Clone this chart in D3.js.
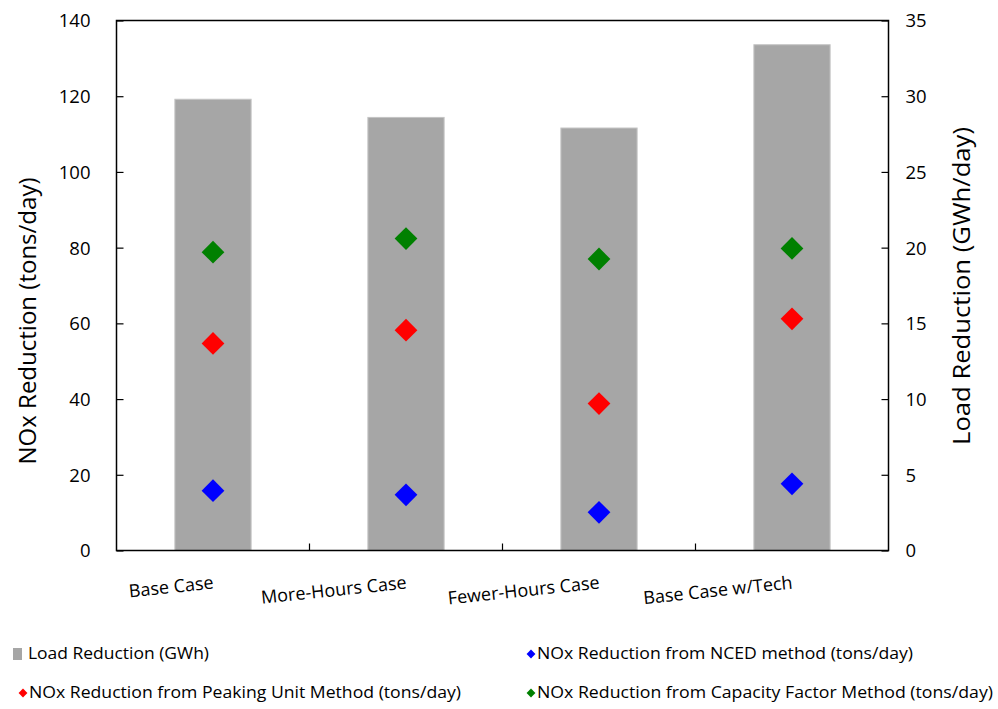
<!DOCTYPE html>
<html>
<head>
<meta charset="utf-8">
<script src="https://cdn.jsdelivr.net/npm/d3@7"></script>
<style>
  html, body { margin: 0; padding: 0; background: #fff; }
  svg { display: block; }
  text { font-family: "Open Sans", "DejaVu Sans", sans-serif; fill: #000; }
</style>
</head>
<body>
<svg id="chart" width="998" height="709"></svg>
<script>
// Scenario categories
const categories = ["Base Case", "More-Hours Case", "Fewer-Hours Case", "Base Case w/Tech"];
// Load reduction (GWh/day), right axis
const loadReduction = [29.8, 28.6, 27.9, 33.4];
// NOx reductions (tons/day), left axis
const noxNCED = [15.8, 14.7, 10.1, 17.6];
const noxPeaking = [54.7, 58.2, 38.8, 61.2];
const noxCapacity = [78.8, 82.4, 77.0, 79.8];

const leftTicks = [0, 20, 40, 60, 80, 100, 120, 140];
const rightTicks = [0, 5, 10, 15, 20, 25, 30, 35];

const pointSeries = [
  { name: "NOx Reduction from NCED method (tons/day)", values: noxNCED, color: "#0000ff" },
  { name: "NOx Reduction from Peaking Unit Method (tons/day)", values: noxPeaking, color: "#ff0000" },
  { name: "NOx Reduction from Capacity Factor Method (tons/day)", values: noxCapacity, color: "#008000" }
];

const svg = d3.select("#chart");
const plot = { left: 116.5, right: 888.5, top: 20.5, bottom: 550.5 };

const x = d3.scaleBand().domain(categories).range([plot.left, plot.right]).paddingInner(0).paddingOuter(0);
const yL = d3.scaleLinear().domain([0, 140]).range([plot.bottom, plot.top]);
const yR = d3.scaleLinear().domain([0, 35]).range([plot.bottom, plot.top]);

const barW = x.bandwidth() * 0.395;

// Load reduction bars
svg.append("g").selectAll("rect")
  .data(categories)
  .join("rect")
  .attr("x", (d) => x(d) + x.bandwidth() / 2 - barW / 2)
  .attr("y", (d, i) => yR(loadReduction[i]))
  .attr("width", barW)
  .attr("height", (d, i) => yR(0) - yR(loadReduction[i]))
  .attr("fill", "#a6a6a6")
  .attr("stroke", "#c4c4c4")
  .attr("stroke-width", 1);

// Diamond markers for NOx methods
const diamond = d3.symbol().type(d3.symbolDiamond2).size(330);
pointSeries.forEach((s) => {
  svg.append("g").selectAll("path")
    .data(categories)
    .join("path")
    .attr("d", diamond)
    .attr("transform", (d, i) => `translate(${x(d) + x.bandwidth() / 2},${yL(s.values[i])})`)
    .attr("fill", s.color);
});

// Plot frame
svg.append("rect")
  .attr("x", plot.left).attr("y", plot.top)
  .attr("width", plot.right - plot.left).attr("height", plot.bottom - plot.top)
  .attr("fill", "none").attr("stroke", "#000").attr("stroke-width", 1.5);

// Left axis (ticks inward)
const axL = svg.append("g").attr("transform", `translate(${plot.left},0)`)
  .call(d3.axisRight(yL).tickValues(leftTicks).tickSize(7).tickFormat(d3.format("d")));
axL.select(".domain").remove();
axL.selectAll("line").attr("stroke", "#000").attr("stroke-width", 1.2);
axL.selectAll("text").attr("x", -26).attr("text-anchor", "end")
  .style("font-size", "18.5px").attr("dy", "0.35em");

// Right axis (ticks inward)
const axR = svg.append("g").attr("transform", `translate(${plot.right},0)`)
  .call(d3.axisLeft(yR).tickValues(rightTicks).tickSize(7).tickFormat(d3.format("d")));
axR.select(".domain").remove();
axR.selectAll("line").attr("stroke", "#000").attr("stroke-width", 1.2);
axR.selectAll("text").attr("x", 17).attr("text-anchor", "start")
  .style("font-size", "18.5px").attr("dy", "0.35em");

// Category boundary ticks on the bottom axis (inward)
const boundaries = categories.slice(1).map((c) => x(c));
svg.append("g").selectAll("line")
  .data(boundaries)
  .join("line")
  .attr("x1", (d) => d).attr("x2", (d) => d)
  .attr("y1", plot.bottom).attr("y2", plot.bottom - 7)
  .attr("stroke", "#000").attr("stroke-width", 1.2);

// Category labels, slightly rotated
svg.append("g").selectAll("text")
  .data(categories)
  .join("text")
  .attr("transform", (d) => `translate(${x(d) + x.bandwidth() / 2 + 1},${plot.bottom + 38}) rotate(-6)`)
  .attr("text-anchor", "end")
  .style("font-size", "18px")
  .text((d) => d);

// Axis titles
svg.append("text")
  .attr("transform", `translate(36,${321}) rotate(-90)`)
  .attr("text-anchor", "middle")
  .style("font-size", "23px")
  .attr("textLength", 287)
  .attr("lengthAdjust", "spacingAndGlyphs")
  .text("NOx Reduction (tons/day)");

svg.append("text")
  .attr("transform", `translate(970,${286}) rotate(-90)`)
  .attr("text-anchor", "middle")
  .style("font-size", "23px")
  .attr("textLength", 318)
  .attr("lengthAdjust", "spacingAndGlyphs")
  .text("Load Reduction (GWh/day)");

// Legend
const legendItems = [
  { name: "Load Reduction (GWh)", type: "bar", color: "#a6a6a6", x: 13, y: 654 },
  { name: pointSeries[0].name, type: "pt", color: pointSeries[0].color, x: 527, y: 654 },
  { name: pointSeries[1].name, type: "pt", color: pointSeries[1].color, x: 19, y: 693 },
  { name: pointSeries[2].name, type: "pt", color: pointSeries[2].color, x: 527, y: 693 }
];
const legendWidths = [181, 376, 432, 456];
const lg = svg.append("g");
legendItems.forEach((d, i) => {
  if (d.type === "bar") {
    lg.append("rect").attr("x", d.x).attr("y", d.y - 6).attr("width", 9).attr("height", 12).attr("fill", d.color);
  } else {
    lg.append("path")
      .attr("d", d3.symbol().type(d3.symbolDiamond2).size(50)())
      .attr("transform", `translate(${d.x + 4},${d.y})`)
      .attr("fill", d.color);
  }
  lg.append("text")
    .attr("x", d.type === "bar" ? d.x + 15 : d.x + 10)
    .attr("y", d.y)
    .attr("dy", "0.35em")
    .style("font-size", "15.5px")
    .attr("textLength", legendWidths[i])
    .attr("lengthAdjust", "spacingAndGlyphs")
    .text(d.name);
});
</script>
</body>
</html>
